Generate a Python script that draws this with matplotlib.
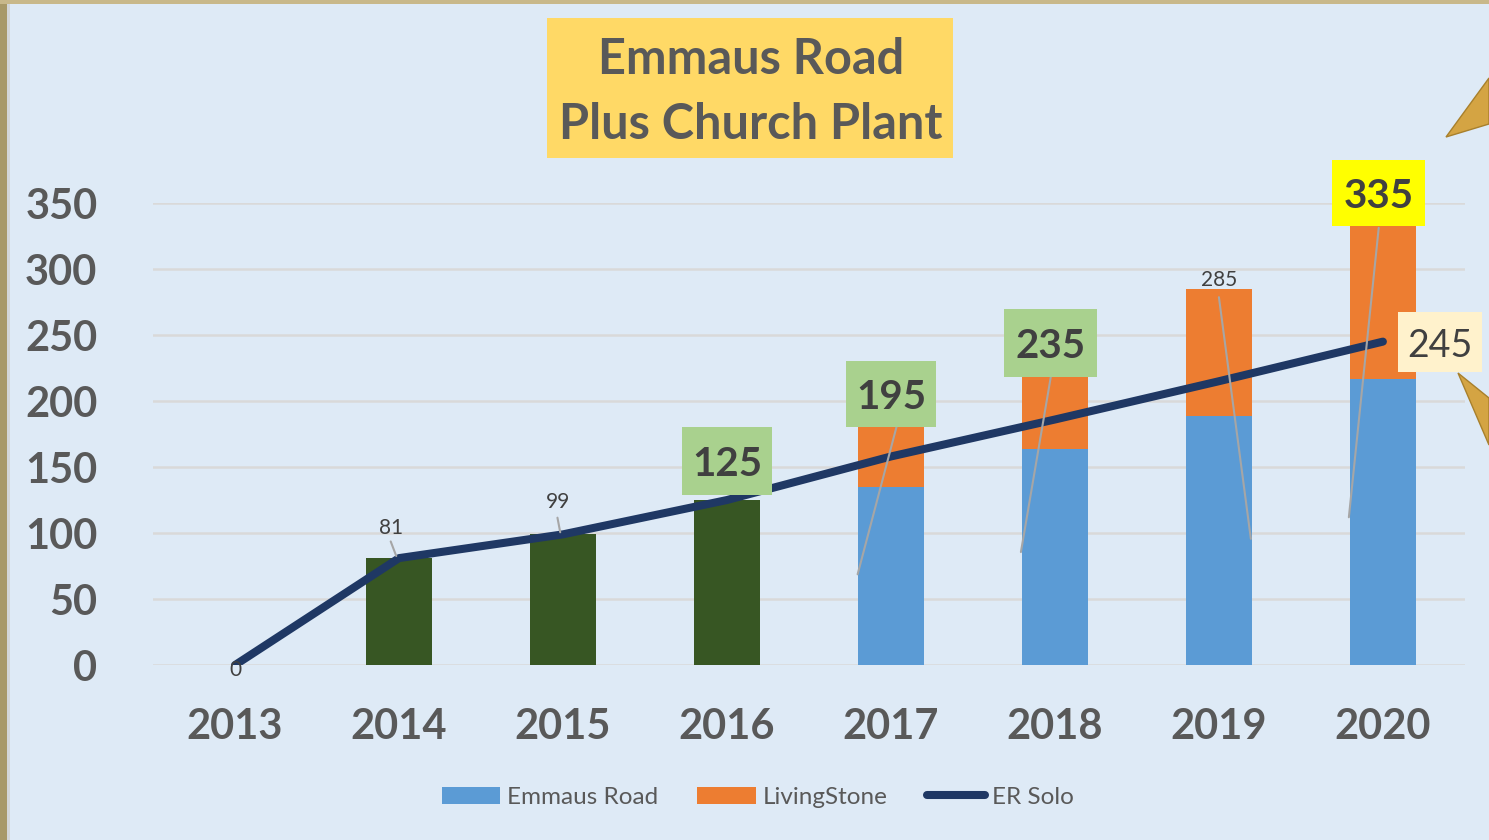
import matplotlib.pyplot as plt
import matplotlib.transforms as mtransforms
from matplotlib.patches import Rectangle, Polygon
from matplotlib.lines import Line2D
from matplotlib.transforms import offset_copy

plt.rcParams['font.family'] = ['Lato', 'DejaVu Sans']

years = ['2013', '2014', '2015', '2016', '2017', '2018', '2019', '2020']
emmaus = [0, 81, 99, 125, 135, 164, 189, 217]
living = [0, 0, 0, 0, 60, 71, 96, 118]
er_solo = [0, 81, 99, 125, 158, 186, 215, 245]
totals = [e + l for e, l in zip(emmaus, living)]

bg = '#deeaf6'
txt = '#404040'
grey = '#595959'

fig = plt.figure(figsize=(14.89, 8.40), dpi=100, facecolor=bg)
ax = fig.add_axes([0.1028, 0.2083, 0.881, 0.55])
ax.set_facecolor(bg)

x = range(len(years))
bar_colors = ['#375623'] * 4 + ['#5b9bd5'] * 4
ax.bar(x, emmaus, width=0.4, color=bar_colors, zorder=2)
ax.bar(x, living, width=0.4, bottom=emmaus, color='#ed7d31', zorder=2)
ax.plot(x, er_solo, color='#1f3864', lw=5.8, solid_capstyle='round', zorder=4)

ax.set_xlim(-0.5, 7.5)
ax.set_ylim(0, 350)
ax.set_yticks(range(0, 351, 50))
ax.set_xticks(list(x))
ax.set_xticklabels(years)
ax.grid(axis='y', color='#d9d9d9', lw=1.8, zorder=0)
ax.set_axisbelow(True)
for s in ax.spines.values():
    s.set_visible(False)
ax.tick_params(length=0)
ax.tick_params(axis='y', pad=40, labelsize=30, labelcolor=grey)
ax.tick_params(axis='x', pad=31, labelsize=30, labelcolor=grey)
for lab in ax.get_xticklabels() + ax.get_yticklabels():
    lab.set_fontweight('bold')

# data labels: (index, value, text offset pts, fontsize, weight, box colour, box size pts)
labels = [
    (0, 0, (0, -2), 15, 'normal', None, None),
    (1, 81, (-6, 23), 15, 'normal', None, None),
    (2, 99, (-3.6, 24.5), 15, 'normal', None, None),
    (3, 125, (0, 28), 29, 'bold', '#a9d18e', (65, 49)),
    (4, 195, (0, 10), 29, 'bold', '#a9d18e', (65, 47.5)),
    (5, 235, (-3, 8.6), 29, 'bold', '#a9d18e', (67, 49)),
    (6, 285, (0, 7.5), 15, 'normal', None, None),
    (7, 335, (-3, 21.6), 29, 'bold', '#ffff00', (67, 47.5)),
    (7, 245, (41, -0.5), 27, 'normal', '#fff2cc', (60, 43)),
]
for i, v, off, fs, fw, fc, size in labels:
    if fc:
        tr = (mtransforms.Affine2D().scale(1 / 72) + fig.dpi_scale_trans
              + mtransforms.ScaledTranslation(i, v, ax.transData))
        w, h = size
        ax.add_patch(Rectangle((off[0] - w / 2, off[1] - h / 2), w, h,
                               transform=tr, fc=fc, ec='none', zorder=6,
                               clip_on=False))
    ax.annotate(str(v), xy=(i, v), xytext=off, textcoords='offset points',
                ha='center', va='center_baseline', fontsize=fs, fontweight=fw,
                color=txt, zorder=7, annotation_clip=False)

# leader lines: (index, value, start offset, end offset) in points
leaders = [
    (1, 81, (-6, 12), (-2, 1.5)),
    (2, 99, (-4, 12), (-2, 1.5)),
    (4, 195, (12, 16.5), (-24, -120)),
    (5, 235, (-3, -16), (-24.5, -142)),
    (6, 285, (0, -6), (23, -180)),
    (7, 335, (-3, -3.6), (-24.5, -212)),
]
for i, v, s, e in leaders:
    ts = offset_copy(ax.transData, fig=fig, x=s[0], y=s[1], units='points')
    te = offset_copy(ax.transData, fig=fig, x=e[0], y=e[1], units='points')
    ax.annotate('', xy=(i, v), xycoords=te, xytext=(i, v), textcoords=ts,
                arrowprops=dict(arrowstyle='-', color='#a6a6a6', lw=1.5,
                                shrinkA=0, shrinkB=0), zorder=5)

# title box
fig.patches.append(Rectangle((547 / 1489, 1 - 158 / 840), 406 / 1489, 140 / 840,
                             transform=fig.transFigure, fc='#ffd966', ec='none'))
fig.text(751 / 1489, 1 - 92 / 840, 'Emmaus Road\nPlus Church Plant', ha='center',
         va='center', fontsize=35, fontweight='bold', color=grey, linespacing=1.55)

# legend
handles = [Rectangle((0, 0), 1, 1, fc='#5b9bd5'),
           Rectangle((0, 0), 1, 1, fc='#ed7d31'),
           Line2D([], [], color='#1f3864', lw=5.8, solid_capstyle='round')]
fig.legend(handles, ['Emmaus Road', 'LivingStone', 'ER Solo'], loc='center',
           bbox_to_anchor=(0.509, 0.051), ncol=3, frameon=False, fontsize=17.5,
           labelcolor=grey, handlelength=2.4, handletextpad=0.3, columnspacing=1.6)

# frame edges and gold cones
fig.patches.append(Rectangle((0, 0), 7 / 1489, 1, transform=fig.transFigure,
                             fc='#a89968', ec='none'))
fig.patches.append(Rectangle((7 / 1489, 0), 3 / 1489, 1, transform=fig.transFigure,
                             fc='#d3d6d8', ec='none'))
fig.patches.append(Rectangle((0, 1 - 4 / 840), 1, 4 / 840, transform=fig.transFigure,
                             fc='#c8b88a', ec='none'))
for pts in [[(1446, 137), (1489, 78), (1489, 124)],
            [(1458, 373), (1489, 398), (1489, 445)]]:
    fig.patches.append(Polygon([(px / 1489, 1 - py / 840) for px, py in pts],
                               closed=True, transform=fig.transFigure,
                               fc='#d4a443', ec='#a8802c', lw=1))

fig.savefig('out.png', dpi=100, facecolor=bg)
